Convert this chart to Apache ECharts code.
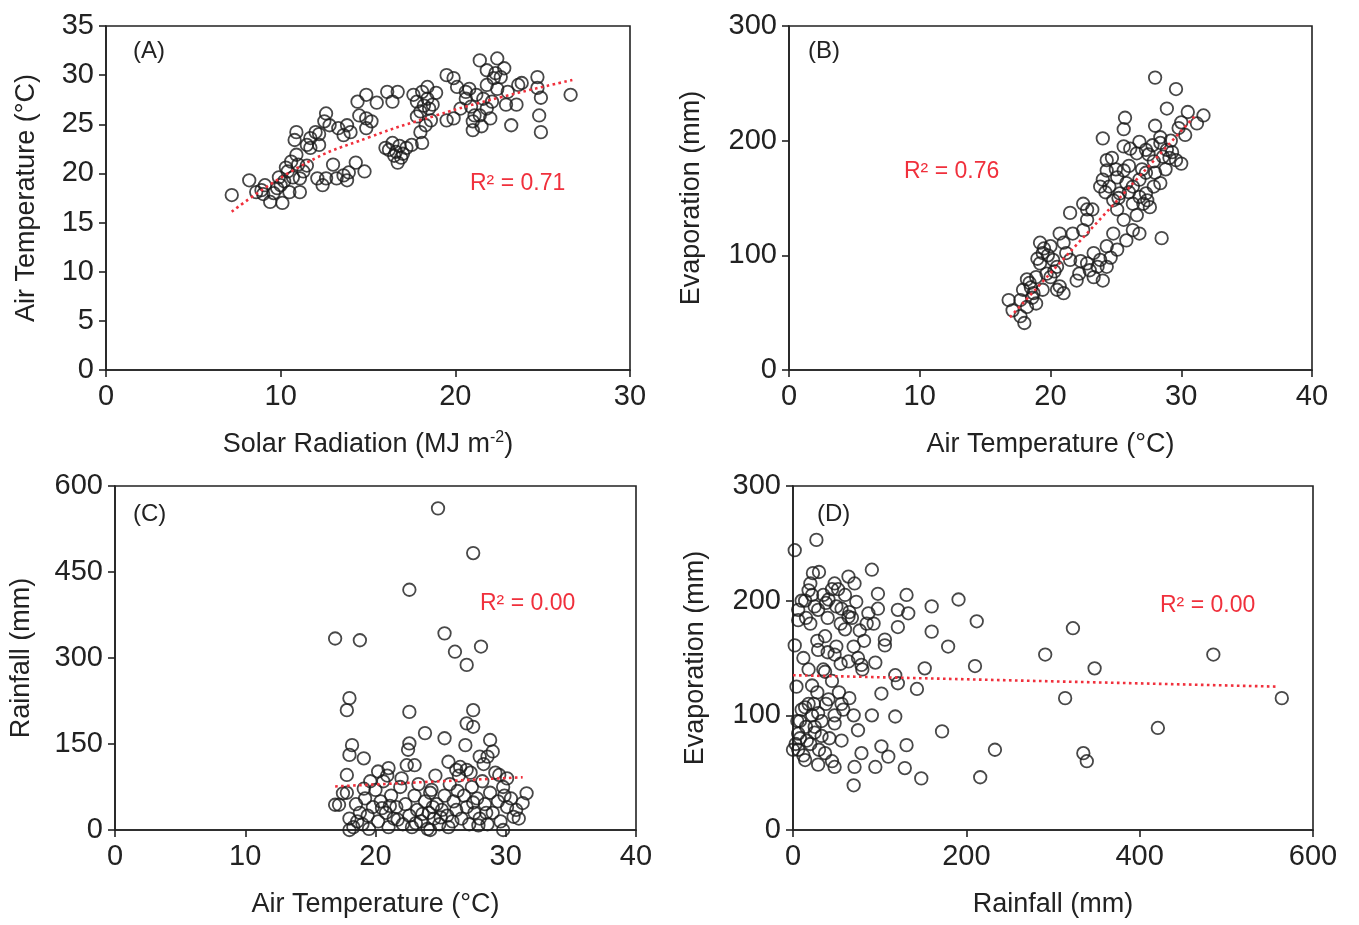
<!DOCTYPE html>
<html>
<head>
<meta charset="utf-8">
<script src="https://cdn.jsdelivr.net/npm/echarts@6/dist/echarts.min.js"></script>
<style>html,body{margin:0;padding:0;background:#fff}#c{width:1359px;height:925px}</style>
</head>
<body>
<div id="c"></div>
<script>
// ---------- DATA ----------
// (A) Solar radiation (MJ m-2) vs air temperature (°C)
const solarTemp = [
 [7.2,17.8],[8.2,19.3],[8.6,18.1],[9.1,18.8],[9.4,17.1],[10.1,17.0],[9.8,18.5],[10.2,19.2],[10.5,18.1],[11.1,18.1],
 [11.1,19.5],[10.4,20.2],[10.6,21.2],[11.3,20.2],[10.9,21.9],[10.8,23.4],[11.5,22.9],[12.0,24.2],[11.7,23.6],[12.2,22.9],
 [12.6,26.1],[12.5,25.3],[12.8,24.9],[13.3,24.6],[13.8,24.9],[14.0,24.2],[13.6,23.9],[14.9,25.6],[14.4,27.3],[14.9,28.0],
 [15.5,27.2],[16.1,28.3],[16.7,28.3],[16.4,27.3],[14.9,24.6],[12.1,19.5],[12.4,18.8],[13.0,20.9],[13.2,19.5],[13.8,19.3],
 [14.3,21.1],[14.8,20.2],[12.6,19.5],[16.0,22.6],[16.4,23.1],[16.6,22.2],[16.7,21.1],[17.2,22.6],[17.5,22.9],[18.1,23.1],
 [18.0,24.2],[18.3,24.9],[17.8,27.3],[18.1,28.3],[18.4,27.6],[18.7,27.0],[18.0,26.3],[18.9,28.2],[18.4,28.8],[19.5,30.0],
 [19.9,29.7],[20.1,28.8],[19.5,25.4],[19.9,25.6],[20.3,26.6],[20.6,27.6],[20.8,28.6],[21.0,25.3],[21.0,24.4],[21.4,25.9],
 [21.8,26.6],[22.0,25.6],[21.6,27.6],[21.8,29.0],[22.2,29.7],[22.4,28.6],[21.4,31.5],[22.4,31.7],[21.8,30.5],[22.8,30.7],
 [22.6,29.8],[22.9,27.0],[23.2,24.9],[23.5,27.0],[23.6,29.0],[23.8,29.2],[24.7,29.8],[24.7,28.7],[24.9,27.7],[24.8,25.9],
 [24.9,24.2],[26.6,28.0],[17.6,28.0],[18.5,26.6],[17.8,25.8],[16.2,22.4],[16.9,21.6],[16.5,21.8],[14.5,25.9],[10.9,24.2],
 [11.7,22.6],[9.6,18.0],[10.0,18.8],[10.7,19.6],[9.0,17.9],[11.5,20.8],[21.2,28.0],[22.1,27.3],[20.6,28.3],[18.2,26.9],
 [10.3,20.6],[11.0,20.9],[9.9,19.6],[8.9,18.3],[13.6,19.8],[13.9,20.1],[16.8,22.8],[17.0,22.0],[21.1,25.9],[21.5,24.8],
 [22.3,30.2],[23.0,28.3],[20.9,26.8],[12.2,24.0],[15.2,25.3],[18.6,25.4]
];
// (B) Air temperature (°C) vs evaporation (mm)
const tempEvap = [
 [28.0,255],[29.6,245],[28.9,228],[30.5,225],[31.7,222],[31.2,215],[30.0,216],[29.8,211],[28.0,213],[25.7,220],
 [25.6,210],[24.0,202],[25.6,195],[26.8,199],[27.3,192],[28.4,198],[28.9,192],[28.4,203],[29.6,183],[30.0,180],
 [29.1,185],[27.9,182],[26.6,189],[26.1,193],[24.3,183],[24.3,174],[24.0,166],[24.5,160],[23.8,160],[25.1,168],
 [25.6,174],[25.8,163],[25.3,154],[24.8,148],[25.1,140],[25.6,131],[26.3,160],[26.8,166],[27.3,172],[27.3,154],
 [27.9,160],[28.4,163],[26.8,151],[27.1,145],[27.6,142],[26.3,145],[28.5,115],[26.8,119],[26.3,122],[25.8,113],
 [24.8,119],[24.3,108],[25.1,105],[23.8,96],[24.3,90],[23.3,102],[22.8,93],[22.2,84],[23.3,81],[24.0,78],
 [22.0,78],[23.0,87],[22.5,145],[22.8,140],[21.5,137],[22.8,131],[22.5,122],[21.7,119],[20.7,119],[21.0,111],
 [20.0,108],[19.2,111],[19.4,102],[20.2,96],[19.2,93],[20.5,90],[19.7,84],[18.9,81],[20.7,73],[21.0,67],
 [20.5,70],[18.4,76],[17.9,70],[18.7,67],[19.4,70],[17.7,61],[16.8,61],[18.2,55],[18.9,58],[17.7,47],
 [18.0,41],[17.1,52],[20.0,81],[21.5,96],[21.2,102],[18.2,79],[29.2,200],[30.3,205],[27.5,188],[26.0,178],
 [24.7,185],[23.2,140],[19.8,100],[18.6,63],[27.0,175],[28.8,175],[25.2,150],[26.6,135],
 [19.5,106],[19.0,97],[20.3,86],[18.5,72],[22.3,95],[23.6,90],[24.6,98],[27.8,196],[28.6,186],[29.3,190],
 [25.0,175],[26.0,155],[27.4,148],[28.0,172],[24.2,155]
];
// (C) Air temperature (°C) vs rainfall (mm)
const tempRain = [
 [24.8,561],[27.5,483],[22.6,419],[16.9,334],[18.8,331],[25.3,343],[26.1,311],[28.1,320],[27.0,288],[18.0,230],
 [17.8,209],[22.6,206],[27.5,209],[27.0,186],[27.5,180],[23.8,169],[25.3,160],[28.8,157],[26.9,148],[18.2,148],
 [22.6,151],[22.5,140],[18.0,131],[19.1,125],[22.4,113],[23.0,113],[20.2,102],[21.0,108],[17.8,96],[25.6,119],
 [28.6,128],[29.0,137],[28.0,128],[26.2,105],[27.0,105],[30.1,90],[29.5,96],[16.9,44],[17.5,64],[31.6,64],
 [31.3,47],[30.6,23],[29.8,0],[24.2,0],[18.0,0],
 [17.2,44],[17.8,65],[18.0,20],[18.3,5],[18.5,45],[18.8,30],[19.0,10],[19.2,55],[19.4,25],[19.5,2],
 [19.8,40],[20.0,70],[20.2,15],[20.4,50],[20.6,85],[20.8,30],[21.0,5],[21.2,60],[21.4,20],[21.6,40],
 [21.9,75],[22.1,10],[22.3,45],[22.6,25],[22.8,5],[23.0,60],[23.2,35],[23.5,15],[23.8,50],[24.0,2],
 [24.1,30],[24.3,70],[24.5,20],[24.7,45],[24.9,10],[25.1,35],[25.3,60],[25.5,25],[25.7,80],[25.9,15],
 [26.0,50],[26.2,35],[26.4,95],[26.6,20],[26.8,60],[27.0,40],[27.2,10],[27.4,75],[27.6,30],[27.8,55],
 [28.0,20],[28.2,85],[28.4,45],[28.6,10],[28.8,65],[29.0,30],[29.2,100],[29.4,50],[29.6,15],[29.8,75],
 [30.1,40],[30.4,55],[30.8,35],[31.0,20],[19.6,85],[20.9,95],[22.0,90],[23.3,80],[24.6,95],[26.5,110],
 [27.3,100],[28.3,115],[24.2,65],[21.7,18],[25.6,5],[27.9,8],[19.1,72],[23.6,28],
 [18.6,15],[20.5,38],[23.1,12],[25.0,22],[26.3,68],[27.5,48],[28.5,30],[24.4,40],[21.1,42],[29.9,60]
];
// (D) Rainfall (mm) vs evaporation (mm)
const rainEvap = [
 [2,244],[27,253],[91,227],[23,224],[64,221],[48,215],[71,215],[18,209],[41,201],[29,192],
 [56,193],[73,199],[98,206],[131,205],[160,195],[191,201],[212,182],[121,192],[133,189],[98,193],
 [87,189],[6,192],[6,183],[20,180],[64,186],[77,174],[93,180],[121,177],[160,173],[106,166],
 [106,161],[179,160],[2,161],[29,157],[37,169],[48,153],[64,147],[79,144],[95,146],[152,141],
 [210,143],[118,135],[37,138],[22,126],[102,119],[121,128],[143,123],[41,114],[56,110],[14,107],
 [29,102],[91,100],[118,99],[172,86],[6,84],[25,90],[48,93],[75,87],[56,78],[79,67],
 [102,73],[131,74],[233,70],[110,64],[6,70],[14,61],[29,57],[48,55],[71,55],[95,55],
 [129,54],[148,45],[216,46],[70,39],[37,67],[323,176],[291,153],[348,141],[485,153],[314,115],
 [564,115],[421,89],[335,67],[339,60],
 [0,70],[3,75],[5,95],[8,80],[10,105],[12,65],[15,90],[18,110],[20,75],[22,100],
 [25,85],[28,120],[30,70],[33,95],[35,140],[38,110],[40,155],[42,80],[45,130],[48,100],
 [50,160],[53,120],[55,145],[58,105],[60,175],[10,200],[15,185],[20,215],[25,195],[30,225],
 [35,205],[40,185],[45,210],[50,195],[55,180],[60,205],[65,190],[70,160],[75,150],[80,140],
 [85,180],[4,125],[12,150],[28,165],[18,140],[45,60],[65,115],[70,100],
 [8,95],[16,78],[24,110],[33,82],[14,200],[22,205],[38,198],[52,210],[68,185],[82,165]
];
// Trend lines
const trendA = [[7.2,16.1],[11.3,20.9],[15.1,23.7],[18.9,25.9],[22.7,27.8],[26.7,29.5]];
const trendB = [[16.9,46],[31.0,221]];
const trendC = [[16.9,76],[31.3,92]];
const trendD = [[0,135],[560,125]];
// Labels
const panelLabels = ['(A)','(B)','(C)','(D)'];
const r2Labels = ['R² = 0.71','R² = 0.76','R² = 0.00','R² = 0.00'];
const xNames = ['Solar Radiation (MJ m{sup|-2})','Air Temperature (°C)','Air Temperature (°C)','Rainfall (mm)'];
const yNames = ['Air Temperature (°C)','Evaporation (mm)','Rainfall (mm)','Evaporation (mm)'];
const xRanges = [[0,30,10],[0,40,10],[0,40,10],[0,600,200]];
const yRanges = [[0,35,5],[0,300,100],[0,600,150],[0,300,100]];

// ---------- LAYOUT ----------
const FONT = 'Liberation Sans, Arial, sans-serif';
const TXT = '#222';
const RED = '#f0303c';
const grids = [
 {left:106, right:729, top:26, bottom:555},
 {left:789, right:47, top:26, bottom:555},
 {left:115, right:723, top:486, bottom:95},
 {left:793, right:46, top:486, bottom:95}
];
const yGaps = [66, 84, 80, 84];
const labelPos = [[133,52],[808,52],[133,515],[817,515]];
const r2Pos = [[470,185],[904,173],[480,605],[1160,607]];

const chart = echarts.init(document.getElementById('c'), null, {renderer:'canvas'});
const axisCommon = {
 axisLine:{show:true, onZero:false, lineStyle:{color:'#222', width:1.6}},
 axisTick:{show:true, inside:false, length:7, lineStyle:{color:'#222', width:1.6}},
 splitLine:{show:false},
 axisLabel:{color:TXT, fontFamily:FONT, fontSize:29},
 nameLocation:'middle',
 nameTextStyle:{color:TXT, fontFamily:FONT, fontSize:27}
};
const option = {
 backgroundColor:'#fff',
 animation:false,
 grid: grids.map(g => Object.assign({show:true, borderColor:'#222', borderWidth:1.6, containLabel:false}, g)),
 xAxis: xRanges.map((r,i) => Object.assign({}, axisCommon, {
   type:'value', gridIndex:i, min:r[0], max:r[1], interval:r[2],
   name:xNames[i], nameGap:60,
   axisLabel:Object.assign({}, axisCommon.axisLabel, {margin:12}),
   nameTextStyle:{color:TXT, fontFamily:FONT, fontSize:27, lineHeight:30,
     rich:{sup:{fontSize:16, lineHeight:14, verticalAlign:'top', color:TXT, fontFamily:FONT}}}
 })),
 yAxis: yRanges.map((r,i) => Object.assign({}, axisCommon, {
   type:'value', gridIndex:i, min:r[0], max:r[1], interval:r[2],
   name:yNames[i], nameGap:yGaps[i],
   axisLabel:Object.assign({}, axisCommon.axisLabel, {margin:12})
 })),
 graphic: [
   ...panelLabels.map((t,i) => ({type:'text', left:labelPos[i][0], top:labelPos[i][1]-13,
     style:{text:t, fill:TXT, font:'24px Liberation Sans, Arial, sans-serif'}})),
   ...r2Labels.map((t,i) => ({type:'text', left:r2Pos[i][0], top:r2Pos[i][1]-13,
     style:{text:t, fill:RED, font:'23px Liberation Sans, Arial, sans-serif'}}))
 ],
 series: []
};
const scatterData = [solarTemp, tempEvap, tempRain, rainEvap];
const trends = [trendA, trendB, trendC, trendD];
scatterData.forEach((d,i) => {
  option.series.push({
    type:'scatter', xAxisIndex:i, yAxisIndex:i, data:d, symbol:'circle', symbolSize:12.5,
    itemStyle:{color:'rgba(0,0,0,0)', borderColor:'#1a1a1a', borderWidth:1.8}, z:2
  });
  option.series.push({
    type:'line', xAxisIndex:i, yAxisIndex:i, data:trends[i], symbol:'none', smooth:i===0,
    lineStyle:{color:RED, width:2.6, type:[2.6,3.4]}, z:3
  });
});
chart.setOption(option);
</script>
</body>
</html>
